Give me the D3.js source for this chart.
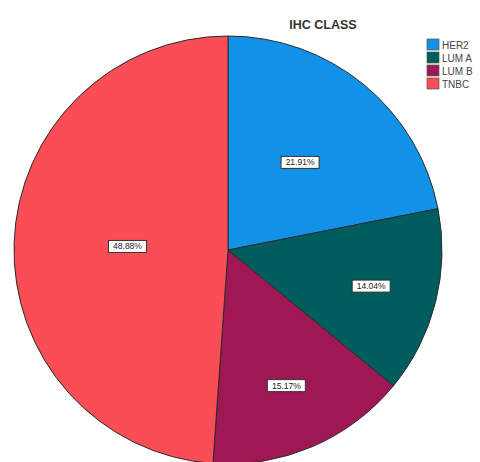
<!DOCTYPE html>
<html>
<head>
<meta charset="utf-8">
<script src="https://cdn.jsdelivr.net/npm/d3@7"></script>
<style>
  body { margin: 0; background: #fff; }
  svg { display: block; font-family: "Liberation Sans", Arial, sans-serif; }
</style>
</head>
<body>
<svg id="chart" width="480" height="462"></svg>
<script>
// IHC class shares (percent)
var categories = ["HER2", "LUM A", "LUM B", "TNBC"];
var percents = [21.91, 14.04, 15.17, 48.88];
var colors = ["#1192e8", "#005d5d", "#9f1853", "#fa4d56"];
// where the value box sits along the slice's middle, as a share of the radius
var labelRadius = [0.53, 0.69, 0.69, 0.47];

var cx = 228, cy = 250, r = 214;

var svg = d3.select("#chart");

var pie = d3.pie().sort(null).value(function (d) { return d; });
var arcs = pie(percents);
var arc = d3.arc().innerRadius(0).outerRadius(r);

var g = svg.append("g").attr("transform", "translate(" + cx + "," + cy + ")");

g.selectAll("path.slice")
    .data(arcs)
    .enter()
    .append("path")
    .attr("class", "slice")
    .attr("d", arc)
    .style("fill", function (d, i) { return colors[i]; })
    .style("stroke", "#2b2b2b")
    .style("stroke-width", 1);

// value labels in small white boxes
var labels = g.selectAll("g.lbl")
    .data(arcs)
    .enter()
    .append("g")
    .attr("class", "lbl")
    .attr("transform", function (d, i) {
        var a = (d.startAngle + d.endAngle) / 2;
        var lr = r * labelRadius[i];
        return "translate(" + (Math.sin(a) * lr) + "," + (-Math.cos(a) * lr) + ")";
    });

labels.append("rect")
    .attr("x", -19)
    .attr("y", -6)
    .attr("width", 38)
    .attr("height", 12)
    .style("fill", "#fff")
    .style("stroke", "#333")
    .style("stroke-width", 1);

labels.append("text")
    .attr("text-anchor", "middle")
    .attr("dy", "0.35em")
    .style("font-size", "8.5px")
    .style("fill", "#222")
    .text(function (d, i) { return percents[i].toFixed(2) + "%"; });

// title
svg.append("text")
    .attr("x", 323)
    .attr("y", 29)
    .attr("text-anchor", "middle")
    .style("font-size", "12.5px")
    .style("font-weight", "bold")
    .style("fill", "#333")
    .text("IHC CLASS");

// legend
var legend = svg.append("g").attr("transform", "translate(427,39)");
var rows = legend.selectAll("g")
    .data(categories)
    .enter()
    .append("g")
    .attr("transform", function (d, i) { return "translate(0," + (i * 13) + ")"; });

rows.append("rect")
    .attr("width", 12)
    .attr("height", 11)
    .style("fill", function (d, i) { return colors[i]; })
    .style("stroke", "#555")
    .style("stroke-width", 0.7);

rows.append("text")
    .attr("x", 15)
    .attr("y", 9.5)
    .style("font-size", "10px")
    .style("fill", "#444")
    .text(function (d) { return d; });
</script>
</body>
</html>
